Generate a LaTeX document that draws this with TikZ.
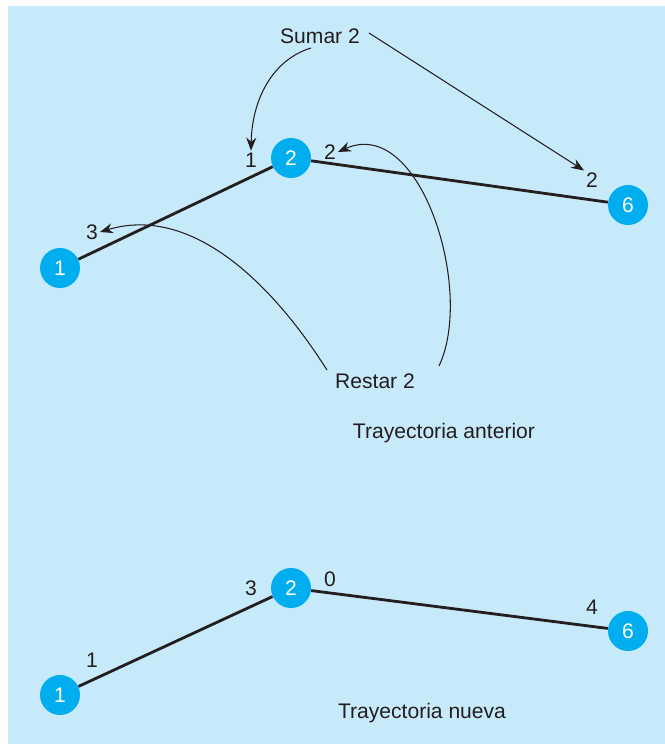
\documentclass[tikz,border=0pt]{standalone}
\usepackage{fontspec}
\setmainfont{Liberation Sans}
\usetikzlibrary{arrows.meta}
\definecolor{bgblue}{RGB}{199,234,250}
\definecolor{nodeblue}{RGB}{0,174,239}
\definecolor{inkgray}{RGB}{35,31,32}
\tikzset{
    vertex/.style={circle, fill=nodeblue, text=white, minimum size=0.8cm, inner sep=0pt, font=\fontsize{12}{14}\selectfont},
    lbl/.style={text=inkgray, inner sep=1pt, font=\fontsize{12}{14}\selectfont},
    route/.style={inkgray, line width=1.6pt}
}
\newcommand{\drawarrow}{\draw[inkgray, line width=0.6pt, -{Stealth[length=2.6mm, width=2mm]}]}

\begin{document}
\begin{tikzpicture}[x=0.02cm, y=-0.02cm]
    % Background
    \useasboundingbox (0,0) rectangle (665,744);
    \fill[bgblue] (8,6) rectangle (665,744);

    % Old route
    \node[vertex] (a1) at (60,268) {1};
    \node[vertex] (a2) at (291,158) {2};
    \node[vertex] (a6) at (628,205) {6};
    \draw[route] (a1) -- (a2) -- (a6);

    \node[lbl] (a3l) at (92,232) {3};
    \node[lbl] (a1l) at (251,160) {1};
    \node[lbl] (a2l) at (330,152) {2};
    \node[lbl] (a6l) at (592,180) {2};

    \node[lbl] (sumar) at (320,36) {Sumar 2};
    \node[lbl] (restar) at (375,381) {Restar 2};
    \node[lbl] (old) at (444,433) {Trayectoria anterior};

    % Draw arrows
    \coordinate (s1) at (311,48);
    \coordinate (s2) at (369,33);
    \coordinate (r1) at (327,370);
    \coordinate (r2) at (439,366);
    \drawarrow (s1) .. controls (272,60) and (252,100) .. (a1l.north);
    \drawarrow (s2) -- (a6l.north west);
    \drawarrow (r1) .. controls (270,280) and (190,205) .. (a3l.east);
    \drawarrow (r2) .. controls (475,290) and (420,115) .. (a2l.east);

    % New route
    \node[vertex] (b1) at (60,695) {1};
    \node[vertex] (b2) at (291,588) {2};
    \node[vertex] (b6) at (628,631) {6};
    \draw[route] (b1) -- (b2) -- (b6);

    \node[lbl] (b1l) at (92,660) {1};
    \node[lbl] (b3l) at (251,588) {3};
    \node[lbl] (b0l) at (330,579) {0};
    \node[lbl] (b4l) at (592,607) {4};

    \node[lbl] (new) at (422,713) {Trayectoria nueva};
\end{tikzpicture}
\end{document}
